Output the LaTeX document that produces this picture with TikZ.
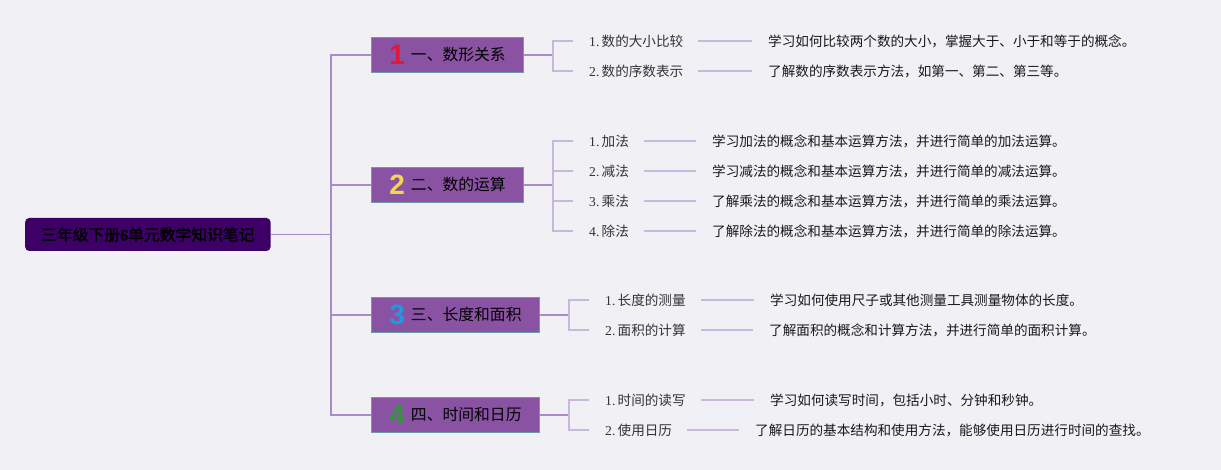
\documentclass[tikz,border=0pt]{standalone}
\usepackage{fontspec}
\setmainfont{Noto Sans CJK SC}
\newfontfamily\lat{Liberation Serif}
\newfontfamily\digf{Liberation Sans}
\newfontfamily\rootf{Noto Sans CJK SC}[FakeBold=1.5]
\newfontfamily\rootlat{Liberation Serif}[FakeBold=1.5]
\definecolor{bg}{HTML}{F1F0F4}
\definecolor{rootfill}{HTML}{3D0066}
\definecolor{branchfill}{HTML}{8A52A3}
\definecolor{branchdraw}{HTML}{6E9CA3}
\definecolor{trunkc}{HTML}{A98BCA}
\definecolor{twigc}{HTML}{C9B8DE}
\definecolor{dred}{HTML}{E0193A}
\definecolor{dyellow}{HTML}{F2D64E}
\definecolor{dblue}{HTML}{1E9BE0}
\definecolor{dgreen}{HTML}{2A9A30}
\newcommand{\bnum}[2]{\raisebox{-4pt}{\digf\bfseries\fontsize{28}{28}\selectfont\color{#1}#2}\hspace{6pt}}
\newcommand{\sn}[1]{{\lat #1}\,}
\begin{document}
\begin{tikzpicture}[x=1pt,y=-1pt,
  rootbox/.style={fill=rootfill,rounded corners=4pt,minimum height=33pt,inner xsep=16pt,inner ysep=0pt,
    font=\rootf\fontsize{15.8}{18}\selectfont,text=black},
  branchbox/.style={fill=branchfill,draw=branchdraw,line width=0.8pt,minimum height=35pt,inner xsep=18pt,inner ysep=0pt,
    font=\fontsize{15.8}{18}\selectfont,text=black},
  subitem/.style={inner sep=0pt,font=\fontsize{13.6}{16}\selectfont,text=black!80,anchor=west},
  desc/.style={inner sep=0pt,font=\fontsize{13.6}{16}\selectfont,text=black!90,anchor=west},
  trunk/.style={draw=trunkc,line width=1.5pt},
  twig/.style={draw=twigc,line width=1.3pt},
]
\useasboundingbox[fill=bg] (0,0) rectangle (1221,470);

\node[rootbox,anchor=west] (root) at (25,234.5) {三年级下册{\rootlat\bfseries 6}单元数学知识笔记};
\coordinate (t) at (331,234.5);
\draw[trunk] (root.east) -- (t);

\node[branchbox,anchor=west] (b1) at (371,55) {\bnum{dred}{1}一、数形关系};
\node[branchbox,anchor=west] (b2) at (371,185) {\bnum{dyellow}{2}二、数的运算};
\node[branchbox,anchor=west] (b3) at (371,315) {\bnum{dblue}{3}三、长度和面积};
\node[branchbox,anchor=west] (b4) at (371,415) {\bnum{dgreen}{4}四、时间和日历};

\foreach \b in {b1,b2,b3,b4} \draw[trunk] (t) |- (\b.west);

\coordinate (k1) at (553,55);
\coordinate (k2) at (553,185);
\coordinate (k3) at (569,315);
\coordinate (k4) at (569,415);
\draw[trunk] (b1.east) -- (k1);
\draw[trunk] (b2.east) -- (k2);
\draw[trunk] (b3.east) -- (k3);
\draw[trunk] (b4.east) -- (k4);

% branch 1
\node[subitem] (s11) at (589,41) {\sn{1.}数的大小比较};
\node[subitem] (s12) at (589,71) {\sn{2.}数的序数表示};
\node[desc] (d11) at (768,41) {学习如何比较两个数的大小，掌握大于、小于和等于的概念。};
\node[desc] (d12) at (768,71) {了解数的序数表示方法，如第一、第二、第三等。};
% branch 2
\node[subitem] (s21) at (589,141) {\sn{1.}加法};
\node[subitem] (s22) at (589,171) {\sn{2.}减法};
\node[subitem] (s23) at (589,201) {\sn{3.}乘法};
\node[subitem] (s24) at (589,231) {\sn{4.}除法};
\node[desc] (d21) at (712,141) {学习加法的概念和基本运算方法，并进行简单的加法运算。};
\node[desc] (d22) at (712,171) {学习减法的概念和基本运算方法，并进行简单的减法运算。};
\node[desc] (d23) at (712,201) {了解乘法的概念和基本运算方法，并进行简单的乘法运算。};
\node[desc] (d24) at (712,231) {了解除法的概念和基本运算方法，并进行简单的除法运算。};
% branch 3
\node[subitem] (s31) at (605,300) {\sn{1.}长度的测量};
\node[subitem] (s32) at (605,330) {\sn{2.}面积的计算};
\node[desc] (d31) at (770,300) {学习如何使用尺子或其他测量工具测量物体的长度。};
\node[desc] (d32) at (769,330) {了解面积的概念和计算方法，并进行简单的面积计算。};
% branch 4
\node[subitem] (s41) at (605,400) {\sn{1.}时间的读写};
\node[subitem] (s42) at (605,430) {\sn{2.}使用日历};
\node[desc] (d41) at (770,400) {学习如何读写时间，包括小时、分钟和秒钟。};
\node[desc] (d42) at (755,430) {了解日历的基本结构和使用方法，能够使用日历进行时间的查找。};

\foreach \k/\s in {k1/s11,k1/s12,k2/s21,k2/s22,k2/s23,k2/s24,k3/s31,k3/s32,k4/s41,k4/s42}
  \draw[twig] (\k) |- ([xshift=-16pt]\s.west);
\foreach \s/\d in {s11/d11,s12/d12,s21/d21,s22/d22,s23/d23,s24/d24,s31/d31,s32/d32,s41/d41,s42/d42}
  \draw[twig] ([xshift=15pt]\s.east) -- ([xshift=-16pt]\d.west);
\end{tikzpicture}
\end{document}
